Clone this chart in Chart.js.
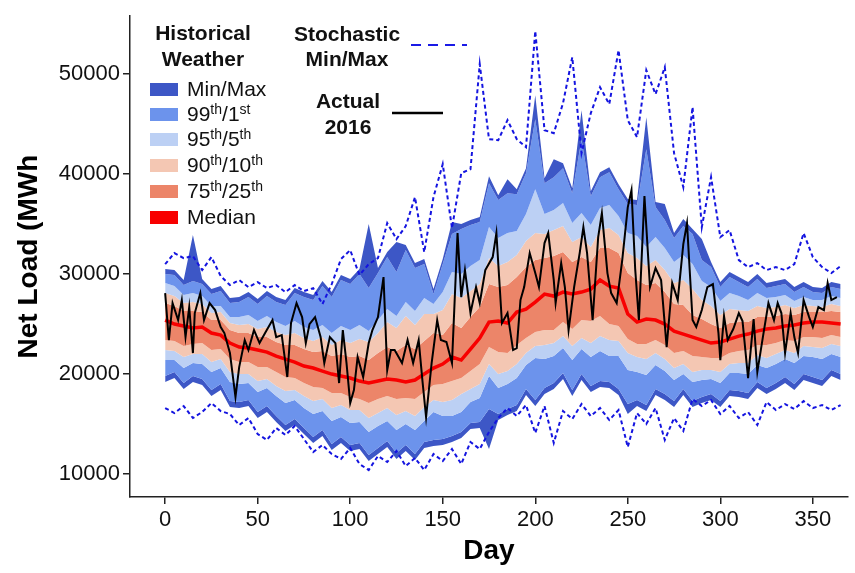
<!DOCTYPE html>
<html>
<head>
<meta charset="utf-8">
<script src="https://cdn.jsdelivr.net/npm/chart.js@4.4.0/dist/chart.umd.min.js"></script>
<style>
  body { margin: 0; background: #fff; }
  #wrap { position: relative; width: 855px; height: 573px; font-family: "Liberation Sans", Arial, sans-serif; }
  .lg { position: absolute; font-size: 21px; line-height: 22px; white-space: nowrap; color: #111; }
  .lg.b { font-weight: bold; text-align: center; width: 140px; }
  .sw { position: absolute; left: 150px; width: 28px; height: 13px; }
  sup { font-size: 14px; line-height: 0; vertical-align: 7px; }
</style>
</head>
<body>
<div id="wrap">
  <canvas id="loadChart" width="855" height="573"></canvas>

  <!-- legend -->
  <div class="lg b" style="left:133px; top:22px;">Historical</div>
  <div class="lg b" style="left:133px; top:48px;">Weather</div>
  <div class="sw" style="top:83px; background:#3d57c6;"></div>
  <div class="sw" style="top:108px; background:#6c93ec;"></div>
  <div class="sw" style="top:133px; background:#bcd0f4;"></div>
  <div class="sw" style="top:159px; background:#f4c7b3;"></div>
  <div class="sw" style="top:185px; background:#ec8569;"></div>
  <div class="sw" style="top:211px; background:#f80000;"></div>
  <div class="lg" style="left:187px; top:78px;">Min/Max</div>
  <div class="lg" style="left:187px; top:103px;">99<sup>th</sup>/1<sup>st</sup></div>
  <div class="lg" style="left:187px; top:128px;">95<sup>th</sup>/5<sup>th</sup></div>
  <div class="lg" style="left:187px; top:154px;">90<sup>th</sup>/10<sup>th</sup></div>
  <div class="lg" style="left:187px; top:180px;">75<sup>th</sup>/25<sup>th</sup></div>
  <div class="lg" style="left:187px; top:206px;">Median</div>

  <div class="lg b" style="left:277px; top:23px;">Stochastic</div>
  <div class="lg b" style="left:277px; top:48px;">Min/Max</div>
  <div class="lg b" style="left:278px; top:90px;">Actual</div>
  <div class="lg b" style="left:278px; top:116px;">2016</div>
  <svg style="position:absolute; left:0; top:0;" width="855" height="573">
    <line x1="411" y1="45" x2="467" y2="45" stroke="#1a1ae6" stroke-width="2" stroke-dasharray="10 7"></line>
    <line x1="392" y1="113" x2="443" y2="113" stroke="#000" stroke-width="2.5"></line>
  </svg>
</div>

<script>
// day grid of the percentile bands (every 5 days)
var days = [];
for (var d = 0; d <= 365; d += 5) { days.push(d); }

// historical weather percentiles, MWh
var histMax = [
  30500, 30400, 29400, 33900, 29500, 28500, 28800, 27600, 27700, 28200,
  27500, 28300, 27700, 27400, 28600, 28200, 27900, 29300, 28200, 29900,
  29500, 30500, 35000, 30600, 32200, 33200, 32900, 31100, 31500, 28500,
  31500, 35200, 35000, 35400, 35700, 39800, 37900, 39500, 38500, 40600,
  47900, 39600, 41500, 41100, 38600, 46400, 38300, 40200, 40700, 39000,
  37500, 37400, 45700, 37200, 37000, 34100, 35500, 34500, 33500, 31200,
  29200, 30200, 29700, 29200, 30000, 29100, 29300, 29500, 28700, 29200,
  28700, 28600, 29200, 29000];
var p99 = [
  30000, 29900, 28900, 29300, 29000, 28000, 28300, 27100, 27200, 27700,
  27000, 27800, 27200, 26900, 28100, 27700, 27400, 28800, 27700, 29400,
  29000, 30000, 28600, 30100, 31700, 30200, 32400, 30600, 31000, 28000,
  31000, 34000, 34500, 34900, 35200, 39100, 37400, 38100, 38000, 40100,
  45500, 39100, 39700, 40600, 38100, 43500, 37800, 39700, 40200, 38500,
  37000, 36900, 42500, 36700, 35400, 33600, 34800, 34000, 31400, 30700,
  28700, 29700, 29200, 28700, 29500, 28600, 28800, 29000, 28200, 28700,
  28200, 28100, 28700, 28500];
var p95 = [
  29100, 28800, 27900, 28100, 27800, 26800, 26800, 25700, 25700, 25900,
  25300, 25800, 25200, 24800, 25300, 24700, 24400, 24900, 24100, 24800,
  24400, 24900, 24300, 25400, 26500, 25800, 27200, 26300, 27600, 27000,
  28200, 30200, 30000, 30800, 31400, 34700, 33600, 34100, 34300, 36000,
  38500, 36000, 36400, 37100, 35100, 36100, 34900, 36600, 36900, 35800,
  34100, 33800, 32700, 33700, 32600, 31200, 31900, 31000, 29300, 28700,
  27300, 28100, 27800, 27400, 28100, 27600, 27700, 27900, 27300, 27700,
  27400, 27400, 27800, 27600];
var p90 = [
  28100, 27800, 27100, 27200, 27000, 26100, 26200, 25100, 24900, 25000,
  24500, 24700, 24200, 23900, 24100, 23600, 23300, 23700, 22900, 23400,
  23100, 23500, 23200, 24100, 25200, 24600, 25800, 24900, 26000, 26000,
  26400, 28000, 27600, 28300, 29000, 31600, 30800, 31200, 31900, 33300,
  34100, 34000, 34400, 34800, 33200, 33700, 32700, 34400, 34600, 33900,
  32100, 31600, 30800, 31400, 30400, 29100, 29400, 28500, 27400, 26800,
  25900, 26500, 26400, 26300, 26800, 26600, 26700, 26900, 26600, 26900,
  26800, 26700, 27000, 26800];
var p75 = [
  27100, 26800, 26300, 26300, 26200, 25400, 25400, 24400, 24100, 24100,
  23700, 23700, 23200, 22900, 22900, 22500, 22200, 22300, 21800, 22000,
  21700, 21800, 21400, 22100, 22700, 22300, 22900, 22500, 23300, 24100,
  23900, 25100, 24600, 25700, 26700, 29000, 28700, 28900, 29700, 30700,
  31400, 31600, 31800, 32200, 31200, 31700, 31200, 32600, 32600, 32100,
  30100, 29400, 28900, 29100, 28200, 27000, 26900, 25900, 25500, 25000,
  24600, 25100, 25200, 25200, 25700, 25700, 25800, 26000, 25900, 26200,
  26200, 26200, 26300, 26200];
var median = [
  25400, 25000, 24800, 24600, 24700, 24100, 23900, 23100, 22700, 22600,
  22400, 22200, 21800, 21500, 21200, 20800, 20600, 20300, 20000, 19800,
  19600, 19300, 19100, 19300, 19500, 19400, 19200, 19400, 20000, 20600,
  21000, 21700, 21400, 22500, 23600, 25200, 25300, 25100, 26200, 26500,
  27200, 28000, 27800, 28200, 28000, 28200, 28500, 29400, 28800, 28600,
  26000, 25200, 25500, 25400, 25000, 24300, 24000, 23700, 23400, 23100,
  23200, 23500, 23800, 24000, 24300, 24500, 24600, 24800, 24900, 25100,
  25200, 25200, 25100, 25000];
var p25 = [
  23400, 23300, 22800, 23000, 23100, 22400, 22500, 21500, 21200, 21200,
  20700, 20700, 20200, 19700, 19600, 19100, 18700, 18600, 18100, 18100,
  17700, 17500, 17100, 17500, 17800, 17500, 17600, 17500, 18200, 18900,
  19000, 19300, 19600, 20300, 21000, 22700, 22200, 22100, 22900, 23600,
  24200, 24400, 24400, 25200, 24500, 25400, 25300, 25800, 25000, 24800,
  23500, 23000, 23000, 23400, 22900, 22100, 22300, 21800, 21700, 21600,
  21600, 22100, 22300, 22400, 22900, 22900, 23100, 23400, 23300, 23700,
  23700, 23600, 23900, 23700];
var p10 = [
  22400, 22300, 21700, 22000, 22000, 21200, 21500, 20200, 20000, 20000,
  19300, 19500, 18800, 18300, 18400, 17800, 17300, 17500, 16600, 16900,
  16400, 16400, 15600, 16100, 16600, 15900, 16300, 15800, 16700, 17400,
  17200, 17400, 18000, 18500, 19000, 21000, 20000, 20300, 21000, 22100,
  22800, 22900, 23100, 23800, 22800, 23600, 23100, 23800, 23400, 23300,
  22100, 21700, 21500, 22100, 21500, 20600, 21000, 20200, 20400, 20400,
  20200, 21000, 21100, 21100, 21900, 21600, 22000, 22400, 22100, 22800,
  22700, 22600, 23000, 22800];
var p5 = [
  21400, 21400, 20600, 21100, 21000, 20200, 20600, 19200, 19000, 19100,
  18200, 18600, 17800, 17100, 17400, 16600, 16000, 16300, 15300, 15700,
  15100, 15200, 14200, 14800, 15300, 14400, 15000, 14400, 15300, 16200,
  15800, 15800, 16200, 17200, 17600, 19800, 18600, 19000, 19600, 20900,
  21600, 21500, 21800, 22600, 21400, 22500, 21700, 22300, 21800, 21800,
  20400, 20200, 19900, 20900, 20300, 19400, 20000, 19200, 19400, 19500,
  19100, 20100, 20100, 20000, 20900, 20600, 21000, 21500, 21100, 21800,
  21700, 21500, 22000, 21700];
var p1 = [
  19800, 20200, 19100, 19800, 19500, 18400, 19000, 17300, 17200, 17400,
  16200, 16800, 15800, 14900, 15500, 14600, 13700, 14400, 13000, 13700,
  12900, 13100, 11900, 12600, 13300, 12100, 12900, 12000, 13200, 13400,
  13500, 13800, 14200, 15100, 15200, 16500, 16000, 16500, 16900, 18500,
  17400, 18600, 19100, 20100, 18400, 20000, 18800, 19300, 19200, 18500,
  17000, 17400, 16900, 18500, 18000, 17300, 18500, 17300, 17700, 18000,
  17300, 18400, 18300, 18100, 19200, 18600, 19100, 19700, 19000, 20000,
  19700, 19400, 20400, 20000];
var histMin = [
  19200, 19600, 18500, 19200, 18900, 17800, 18400, 16700, 16600, 16800,
  15600, 16200, 15200, 14300, 14900, 14000, 13100, 13800, 12400, 13100,
  12300, 12500, 11300, 12000, 12700, 11500, 12300, 11400, 12600, 12800,
  12900, 13200, 13600, 14500, 14600, 12500, 15400, 15900, 16300, 17900,
  16800, 18000, 18500, 19500, 17800, 19400, 18200, 18700, 18600, 17900,
  16000, 16800, 16300, 17900, 17400, 16700, 17900, 16700, 17100, 17400,
  16700, 17800, 17700, 17500, 18600, 18000, 18500, 19100, 18400, 19400,
  19100, 18800, 19800, 19400];

// stochastic min / max, MWh
var stochMax = [
  31000, 32100, 31600, 31800, 30400, 31700, 29800, 28900, 29400, 28700,
  29200, 28600, 28900, 28200, 28900, 28300, 28600, 27000, 29000, 31500,
  32400, 29900, 31000, 31600, 35100, 33500, 34800, 37700, 32200, 37700,
  41000, 34600, 40100, 40500, 51000, 43500, 43400, 45400, 43500, 42700,
  54300, 44400, 44100, 47100, 51700, 42100, 46100, 48700, 47000, 52400,
  45400, 43700, 50400, 48000, 50700, 42100, 38700, 46700, 34700, 39700,
  33700, 34400, 31400, 30700, 31100, 30400, 30700, 30400, 31000, 34100,
  31700, 30700, 30100, 30800];
var stochMin = [
  16600, 16100, 16800, 15600, 16200, 17100, 16300, 16000, 14900, 15600,
  14000, 13400, 14600, 13900, 14800, 13500, 12200, 12900, 12000, 11500,
  12600, 11000, 10400, 11800, 11200, 12300, 10800, 11600, 10400, 12000,
  11300, 12500, 11000, 13200, 12500, 14200, 15600, 16600, 15800, 16900,
  14100, 16800, 13100, 16300, 15500, 17000, 15800, 16600, 15400, 16400,
  12700, 16100, 15000, 16600, 13400, 15600, 14300, 17500, 16800, 17400,
  16000, 16800, 15600, 16200, 14900, 17200, 16400, 17000, 16500, 17300,
  16600, 16900, 16400, 16900];

// actual 2016 net load
var actualDay = [
  0, 2, 4, 7, 9, 11, 13, 15, 16, 19, 21, 24, 27, 30, 32, 35, 38, 40, 43, 45,
  48, 51, 54, 58, 60, 63, 66, 68, 71, 74, 76, 78, 81, 84, 86, 89, 92, 94, 96, 98,
  100, 102, 104, 107, 110, 112, 115, 118, 120, 122, 124, 128, 131, 134, 137, 139, 141, 144, 147, 149,
  152, 155, 158, 160, 162, 165, 168, 170, 173, 177, 179, 182, 185, 188, 190, 192, 194, 197, 200, 202,
  205, 207, 210, 211, 214, 216, 218, 221, 224, 226, 228, 231, 234, 236, 239, 241, 244, 247, 250, 252,
  254, 256, 259, 262, 265, 268, 271, 274, 277, 280, 282, 285, 287, 290, 293, 296, 299, 300, 302, 304,
  307, 310, 312, 315, 318, 320, 323, 326, 329, 331, 333, 335, 338, 340, 342, 345, 348, 350, 353, 356,
  358, 360, 363];
var actualLoad = [
  28100, 23400, 27100, 25400, 27400, 23700, 26700, 22100, 26100, 28100, 25400, 27100, 26400, 24700, 24100, 22100, 17700, 20700, 23400, 22400,
  24400, 23100, 24100, 25400, 23700, 23900, 19700, 25100, 27100, 25700, 23100, 25000, 25700, 23700, 21100, 23700, 23100, 19100, 24400, 21100,
  17100, 18400, 21700, 19700, 23100, 24400, 25700, 29700, 20400, 22400, 22400, 21100, 23400, 21100, 23400, 19400, 15700, 21100, 25400, 23400,
  23200, 21100, 34100, 27700, 30400, 26100, 28700, 27100, 30400, 31700, 34100, 25100, 26100, 22400, 22600, 27400, 28700, 32100, 30100, 28700,
  33100, 34100, 29400, 27100, 31100, 28700, 24400, 28700, 32100, 34700, 32100, 25400, 33700, 36100, 30100, 28100, 27100, 31400, 36700, 38400,
  30500, 25400, 37800, 28700, 30600, 29400, 22700, 29100, 27400, 33000, 35100, 25400, 24700, 26400, 28700, 29000, 24100, 21400, 25800, 23400,
  24500, 26100, 25300, 19600, 25500, 20200, 23700, 27100, 25400, 27100, 26100, 22100, 26100, 23700, 22100, 27400, 25700, 24700, 26700, 26400,
  29100, 27400, 27700];

var xTicks = [0, 50, 100, 150, 200, 250, 300, 350];
var yTicks = [10000, 20000, 30000, 40000, 50000];

function pts(xs, vals) {
    return vals.map(function (v, i) { return { x: xs[i], y: v }; });
}

// one edge of a shaded band, filled down to the next dataset
function band(label, vals, color) {
    return {
        label: label,
        data: pts(days, vals),
        borderWidth: 0,
        pointRadius: 0,
        backgroundColor: color,
        fill: color ? '+1' : false,
        order: 5
    };
}

var datasets = [
    band('max', histMax, '#3d57c6'),
    band('p99', p99, '#6c93ec'),
    band('p95', p95, '#bcd0f4'),
    band('p90', p90, '#f4c7b3'),
    band('p75', p75, '#ec8569'),
    band('p25', p25, '#f4c7b3'),
    band('p10', p10, '#bcd0f4'),
    band('p5', p5, '#6c93ec'),
    band('p1', p1, '#3d57c6'),
    band('min', histMin, null),
    { label: 'Stochastic max', data: pts(days, stochMax), borderColor: '#1414e0', borderWidth: 2, borderDash: [4, 3], pointRadius: 0, fill: false, order: 2 },
    { label: 'Stochastic min', data: pts(days, stochMin), borderColor: '#1414e0', borderWidth: 2, borderDash: [4, 3], pointRadius: 0, fill: false, order: 2 },
    { label: 'Median', data: pts(days, median), borderColor: '#f80000', borderWidth: 3.5, pointRadius: 0, fill: false, order: 1 },
    { label: 'Actual 2016', data: pts(actualDay, actualLoad), borderColor: '#000', borderWidth: 2, pointRadius: 0, fill: false, order: 0 }
];

var axisFont = { family: '"Liberation Sans", Arial, sans-serif', size: 22 };
var titleFont = { family: '"Liberation Sans", Arial, sans-serif', size: 28, weight: 'bold' };

var ctx = document.getElementById('loadChart').getContext('2d');
var loadChart = new Chart(ctx, {
    type: 'line',
    data: { datasets: datasets },
    options: {
        responsive: false,
        animation: false,
        devicePixelRatio: 1,
        layout: { padding: { top: 3, right: 7, left: 0, bottom: 0 } },
        elements: { line: { tension: 0 } },
        plugins: {
            legend: { display: false },
            tooltip: { enabled: false },
            filler: { drawTime: 'beforeDatasetsDraw' }
        },
        scales: {
            x: {
                type: 'linear',
                min: -19,
                max: 369,
                afterBuildTicks: function (axis) {
                    axis.ticks = xTicks.map(function (v) { return { value: v }; });
                },
                afterFit: function (axis) { axis.height = 76; },
                ticks: { font: axisFont, color: '#111', padding: 3, maxRotation: 0, callback: function (v) { return String(v); } },
                grid: { drawOnChartArea: false, tickLength: 7, color: '#222', lineWidth: 1.5 },
                border: { color: '#222', width: 1.5 },
                title: { display: true, text: 'Day', font: titleFont, color: '#000', padding: { top: 0, bottom: 5 } }
            },
            y: {
                min: 7700,
                max: 55800,
                afterBuildTicks: function (axis) {
                    axis.ticks = yTicks.map(function (v) { return { value: v }; });
                },
                afterFit: function (axis) { axis.width = 130; },
                ticks: { font: axisFont, color: '#111', padding: 3, callback: function (v) { return String(v); } },
                grid: { drawOnChartArea: false, tickLength: 7, color: '#222', lineWidth: 1.5 },
                border: { color: '#222', width: 1.5 },
                title: { display: true, text: 'Net Load (MWh', font: titleFont, color: '#000', padding: { top: 12, bottom: 0 } }
            }
        }
    }
});
</script>
</body>
</html>
